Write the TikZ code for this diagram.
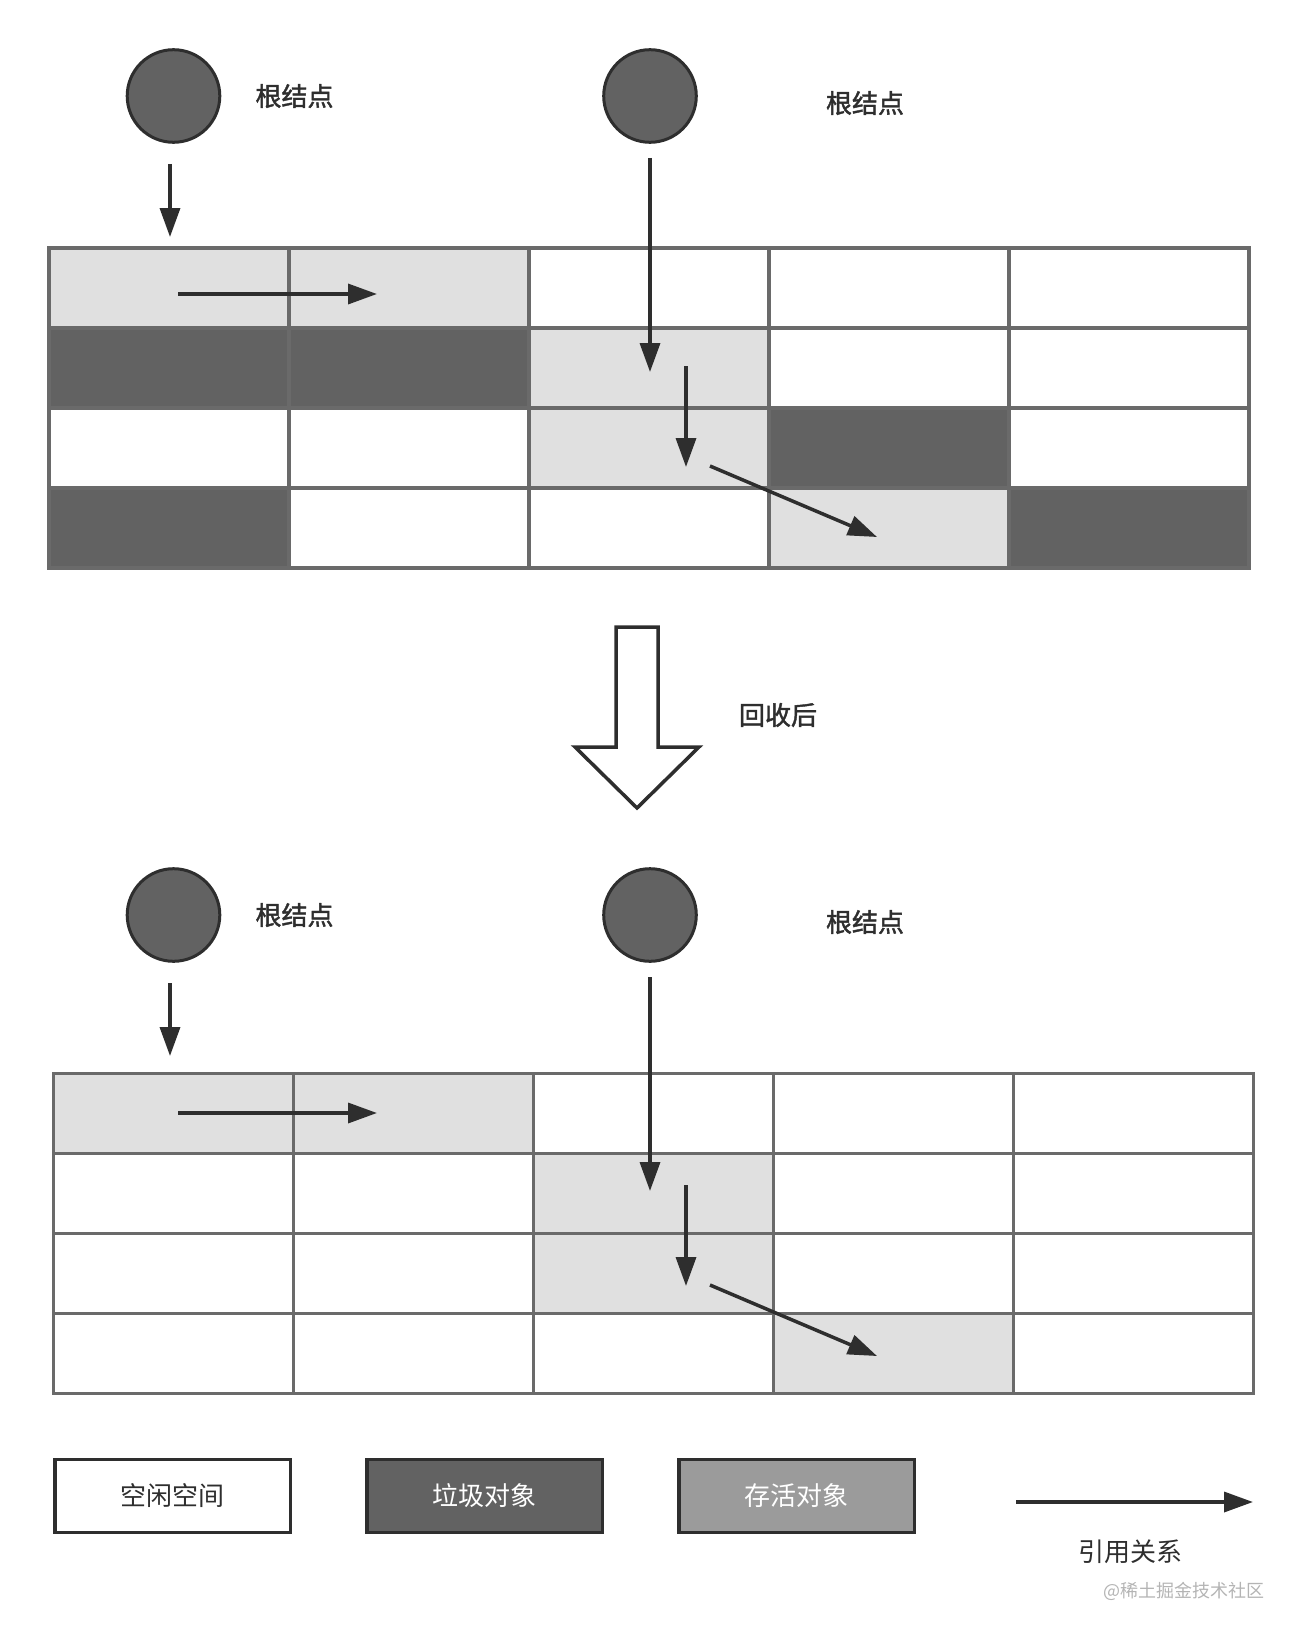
\documentclass[tikz,border=0pt]{standalone}
\usepackage{fontspec}
\setmainfont{Noto Sans CJK SC}
\newfontfamily\cjkmid[FakeBold=1.6]{Noto Sans CJK SC}
\usepackage{tikz}
\usetikzlibrary{positioning, arrows.meta}
\definecolor{deadgray}{HTML}{626262}
\definecolor{livegray}{HTML}{E0E0E0}
\definecolor{gridgray}{HTML}{6A6A6A}
\definecolor{inkgray}{HTML}{2E2E2E}
\definecolor{keygray}{HTML}{9B9B9B}
\definecolor{sitegray}{HTML}{B4B4B4}
\tikzset{
ref/.style={-{Triangle[length=29pt, width=20pt]}, line width=3.5pt, draw=inkgray}, % reference arrows
root/.style={circle, draw=inkgray, line width=3pt, fill=deadgray, minimum size=92.6pt, inner sep=0pt},
rootlabel/.style={font=\cjkmid\fontsize{26}{30}\selectfont, text=inkgray, inner sep=0pt},
cell/.style={draw=gridgray, line width=3.5pt, minimum width=240pt, minimum height=80pt, inner sep=0pt, outer sep=0pt},
key/.style={draw=inkgray, line width=3.5pt, minimum width=235.5pt, minimum height=72.8pt, font=\fontsize{26}{30}\selectfont, text=inkgray},
hollow/.style={draw=inkgray, line width=3.5pt, fill=white, line join=miter},
watermark/.style={font=\fontsize{18}{20}\selectfont, text=sitegray},
}

\begin{document}
\begin{tikzpicture}[x=1pt, y=-1pt]
\useasboundingbox (0,0) rectangle (1304,1640);
% heap before collection
\foreach \row [count=\r] in {{livegray,livegray,white,white,white},
    {deadgray,deadgray,livegray,white,white},
    {white,white,livegray,deadgray,white},
    {deadgray,white,white,livegray,deadgray}}
  \foreach \f [count=\c] in \row
    \node[cell, fill=\f] (t\r\c) at ({169+(\c-1)*240}, {288+(\r-1)*80}) {};
% heap after collection
\foreach \row [count=\r] in {{livegray,livegray,white,white,white},
    {white,white,livegray,white,white},
    {white,white,livegray,white,white},
    {white,white,white,livegray,white}}
  \foreach \f [count=\c] in \row
    \node[cell, fill=\f] (b\r\c) at ({173.5+(\c-1)*240}, {1113.5+(\r-1)*80}) {};
% roots and references, same in both halves
\foreach \s/\dy in {t/0, b/819} {
  \node[root] (\s r1) at (173.5,{96+\dy}) {};
  \node[rootlabel, right=34pt of \s r1] (\s l1) {根结点};
  \node[root] (\s r2) at (650,{96+\dy}) {};
  \node[rootlabel, right=128pt of \s r2, yshift=-7pt] (\s l2) {根结点};
  \coordinate (\s a1) at (170,{164+\dy});
  \coordinate (\s a2) at (170,{237+\dy});
  \coordinate (\s a3) at (650,{158+\dy});
  \coordinate (\s a4) at (650,{372+\dy});
  \coordinate (\s h1) at (178,{294+\dy});
  \coordinate (\s h2) at (377,{294+\dy});
  \coordinate (\s v1) at (686,{366+\dy});
  \coordinate (\s v2) at (686,{467+\dy});
  \coordinate (\s d1) at (710,{466+\dy});
  \coordinate (\s d2) at (877,{537+\dy});
  \draw[ref] (\s a1) -- (\s a2);
  \draw[ref] (\s a3) -- (\s a4);
  \draw[ref] (\s h1) -- (\s h2);
  \draw[ref] (\s v1) -- (\s v2);
  \draw[ref] (\s d1) -- (\s d2);
}
% big arrow between the halves
\draw[hollow] (616,627) -- (658,627) -- (658,747) -- (699,747) -- (637,808)
  -- (575,747) -- (616,747) -- cycle;
\node[rootlabel] (after) at (778,715) {回收后};
% legend
\node[key] (free) at (172.8,1496) {空闲空间};
\node[key, fill=deadgray, text=white, right=73pt of free] (garbage) {垃圾对象};
\node[key, fill=keygray, text=white, right=73pt of garbage] (alive) {存活对象};
\coordinate (k1) at (1016,1502);
\coordinate (k2) at (1253,1502);
\draw[ref] (k1) -- (k2);
\node[font=\fontsize{26}{30}\selectfont, text=inkgray] (refs) at (1130,1552) {引用关系};
\node[watermark] (site) at (1184,1591) {@稀土掘金技术社区};
\end{tikzpicture}
\end{document}
